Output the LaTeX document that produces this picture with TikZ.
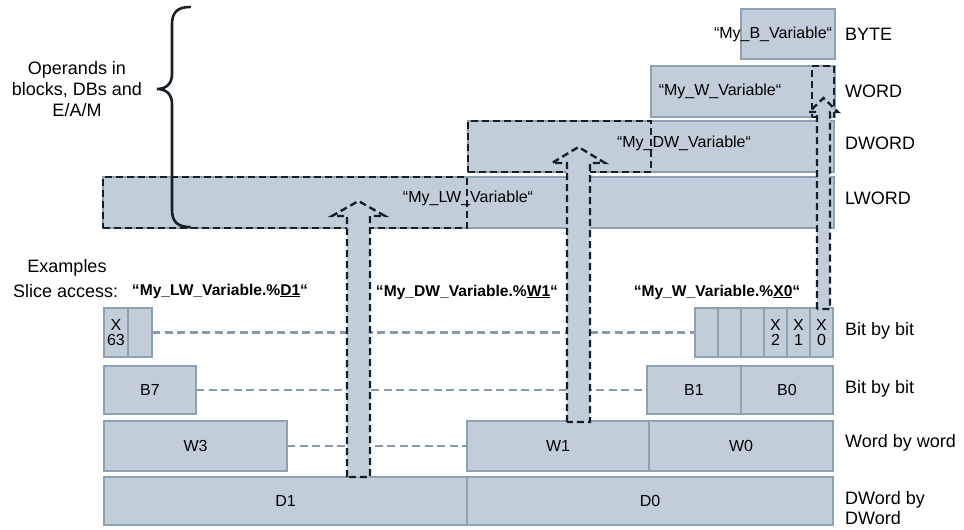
\documentclass[tikz,border=0pt]{standalone}
\usepackage{fontspec}
\setmainfont{Liberation Sans}
\definecolor{bfill}{RGB}{193,206,217}
\definecolor{bline}{RGB}{141,161,177}
\definecolor{dk}{RGB}{22,30,40}
\definecolor{gl}{RGB}{138,156,171}
\begin{document}
\begin{tikzpicture}[x=1pt,y=-1pt,
  box/.style={draw=bline,fill=bfill,line width=2.3pt,inner sep=0pt,outer sep=0pt,
    font=\fontsize{16}{16}\selectfont},
  dbox/.style={draw=dk,line width=2.4pt,dash pattern=on 7pt off 4pt,inner sep=0pt,outer sep=0pt},
  darrow/.style={draw=dk,fill=bfill,line width=2.4pt,dash pattern=on 7pt off 4pt,line join=miter},
  gdash/.style={draw=gl,line width=2.2pt,dash pattern=on 8pt off 4.5pt},
  inner/.style={inner sep=0pt,font=\fontsize{16}{16}\selectfont},
  bold/.style={inner sep=0pt,font=\fontsize{15.6}{15.6}\selectfont\bfseries},
  side/.style={inner sep=0pt,anchor=west,align=left,font=\fontsize{18}{20}\selectfont},
  bitc/.style={box,align=center,font=\fontsize{16}{15}\selectfont}
]
\fill[white] (0,0) rectangle (964,530);
\useasboundingbox (0,0) rectangle (964,530);

% upper variables
\node[box,minimum width=731pt,minimum height=51pt] (lword) at (468.5,202.5) {};
\node[box,minimum width=366pt,minimum height=51pt] (dword) at (651,146.5) {};
\node[box,minimum width=184pt,minimum height=51pt] (word) at (743,91.5) {};
\node[box,minimum width=94pt,minimum height=50pt] (byte) at (788,34) {};
\node[dbox,minimum width=364pt,minimum height=51pt] (lwsel) at (285,202.5) {};
\node[dbox,minimum width=183pt,minimum height=51pt] (dwsel) at (559.5,146.5) {};
\node[dbox,minimum width=22pt,minimum height=51pt] (wsel) at (823,91.5) {};

% bottom rows
\node[bitc,minimum width=24pt,minimum height=49pt] (x63) at (116,332.5) {X\\63};
\node[box,minimum width=24pt,minimum height=49pt] (x62) at (140,332.5) {};
\node[box,minimum width=23pt,minimum height=49pt] (b5) at (706.5,332.5) {};
\node[box,minimum width=23pt,minimum height=49pt] (b4) at (729.5,332.5) {};
\node[box,minimum width=23pt,minimum height=49pt] (b3) at (752.5,332.5) {};
\node[bitc,minimum width=23pt,minimum height=49pt] (x2) at (775.5,332.5) {X\\2};
\node[bitc,minimum width=23pt,minimum height=49pt] (x1) at (798.5,332.5) {X\\1};
\node[bitc,minimum width=23pt,minimum height=49pt] (x0) at (821.5,332.5) {X\\0};

\node[box,minimum width=92pt,minimum height=48pt] (b7) at (150,390) {B7\hspace{12pt}};
\node[box,minimum width=94pt,minimum height=48pt] (b1) at (694,390) {B1\hspace{4pt}};
\node[box,minimum width=92pt,minimum height=48pt] (b0) at (787,390) {B0};

\node[box,minimum width=183pt,minimum height=50pt] (w3) at (195.5,446) {W3\hspace{12pt}};
\node[box,minimum width=182pt,minimum height=50pt] (w1) at (558,446) {W1\hspace{6pt}};
\node[box,minimum width=184pt,minimum height=50pt] (w0) at (741,446) {W0\hspace{12pt}};

\node[box,minimum width=363pt,minimum height=48pt] (d1) at (285.5,501) {D1\hspace{14pt}};
\node[box,minimum width=366pt,minimum height=48pt] (d0) at (650,501) {D0\hspace{10pt}};

% gray dashed continuation lines
\draw[gdash] (x62.east) -- (b5.west);
\draw[gdash] (b7.east) -- (b1.west);
\draw[gdash] (w3.east) -- (w1.west);

% block arrows
\filldraw[darrow] (347,477) -- (347,216) -- (332,216) -- (358.5,201) -- (385,216)
  -- (370,216) -- (370,477) -- cycle;
\filldraw[darrow] (567,422) -- (567,163) -- (552,163) -- (578.5,147) -- (605,163)
  -- (590,163) -- (590,422) -- cycle;
\filldraw[darrow] (817,309) -- (817,112) -- (809,112) -- (823.5,98) -- (838,112)
  -- (830,112) -- (830,309) -- cycle;

% variable names
\node[inner] (tb) at (773,34) {“My\_B\_Variable“};
\node[inner] (tw) at (720,91) {“My\_W\_Variable“};
\node[inner] (tdw) at (684,143) {“My\_DW\_Variable“};
\node[inner] (tlw) at (468,198) {“My\_LW\_Variable“};

% side labels
\node[side] (lb) at (845,34) {BYTE};
\node[side] (lw) at (845,91) {WORD};
\node[side] (ldw) at (845,143) {DWORD};
\node[side] (llw) at (845,198) {LWORD};
\node[side] (lbit) at (845,331) {Bit by bit};
\node[side] (lbyte) at (845,389) {Bit by bit};
\node[side] (lword2) at (845,443) {Word by word};
\node[side] (ldword) at (845,508) {DWord by\\DWord};

% left texts
\node[inner sep=0pt,align=center,font=\fontsize{18}{21}\selectfont] (ops) at (77,89)
  {Operands in\\blocks, DBs and\\E/A/M};
\node[inner sep=0pt,font=\fontsize{18}{18}\selectfont] (ex) at (67,268) {Examples};
\node[inner sep=0pt,anchor=west,font=\fontsize{18}{18}\selectfont] (sl) at (13,291) {Slice access:};
\node[bold] (s1) at (220,291) {“My\_LW\_Variable.\%\underline{D1}“};
\node[bold] (s2) at (467,292) {“My\_DW\_Variable.\%\underline{W1}“};
\node[bold] (s3) at (717,292) {“My\_W\_Variable.\%\underline{X0}“};

% brace
\draw[dk,line width=2.6pt,line cap=round] (190,7) .. controls (178,7) and (172,12) .. (172,24)
  -- (172,74) .. controls (172,84) and (166,89) .. (157,89)
  .. controls (166,89) and (172,94) .. (172,104)
  -- (172,210) .. controls (172,222) and (178,227) .. (190,227);
\end{tikzpicture}
\end{document}
